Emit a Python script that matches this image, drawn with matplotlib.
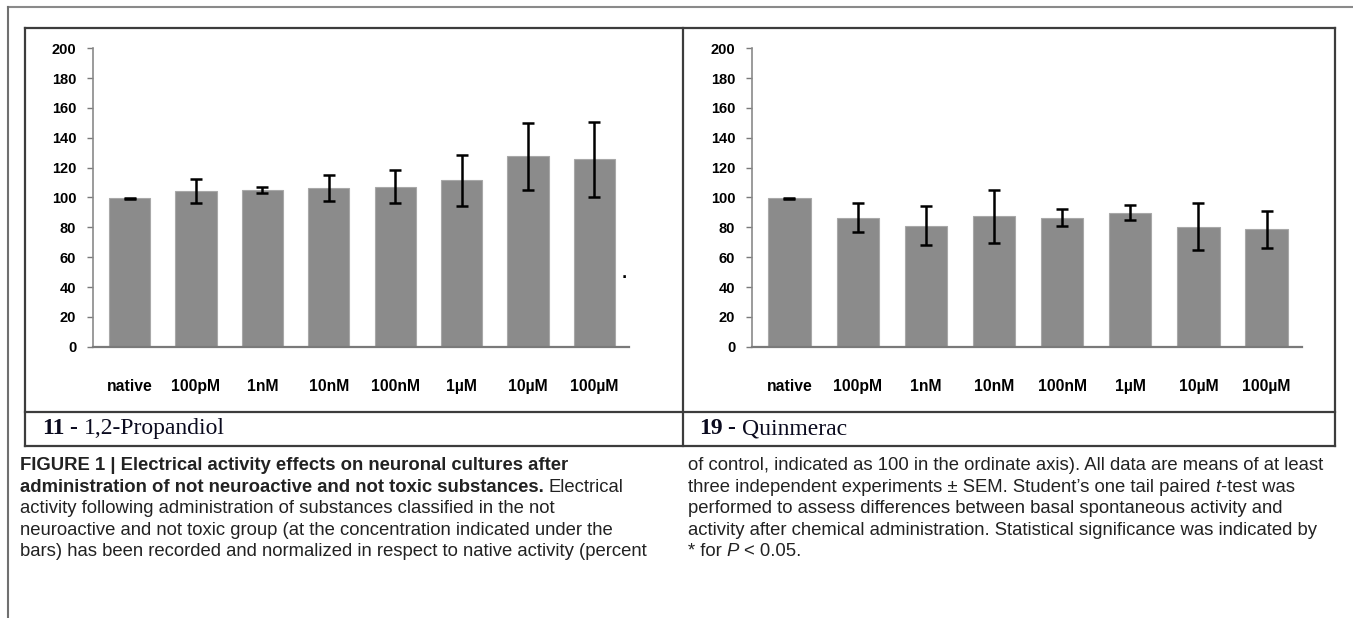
import matplotlib
matplotlib.use("Agg")
import matplotlib.pyplot as plt
from matplotlib.lines import Line2D
import numpy as np

#########################################################################

concentrations = ["native", "100pM", "1nM", "10nM", "100nM", "1µM", "10µM", "100µM"]

propandiol_mean = [99.5, 104.5, 105.3, 106.3, 107.3, 111.5, 127.5, 125.5]
propandiol_sem = [0.4, 8.2, 2.0, 8.8, 11.2, 17.0, 22.7, 24.9]

quinmerac_mean = [99.4, 86.4, 81.1, 87.3, 86.4, 89.9, 80.4, 78.6]
quinmerac_sem = [0.3, 9.6, 13.1, 17.9, 5.7, 4.8, 15.7, 12.2]

panel_titles = [("11", "1,2-Propandiol"), ("19", "Quinmerac")]
yticks = [0, 20, 40, 60, 80, 100, 120, 140, 160, 180, 200]

caption_left = [
    [("FIGURE 1 | Electrical activity effects on neuronal cultures after", "bold", "normal")],
    [("administration of not neuroactive and not toxic substances.", "bold", "normal"),
     (" Electrical", "normal", "normal")],
    [("activity following administration of substances classified in the not", "normal", "normal")],
    [("neuroactive and not toxic group (at the concentration indicated under the", "normal", "normal")],
    [("bars) has been recorded and normalized in respect to native activity (percent", "normal", "normal")],
]
caption_right = [
    [("of control, indicated as 100 in the ordinate axis). All data are means of at least", "normal", "normal")],
    [("three independent experiments ± SEM. Student’s one tail paired ", "normal", "normal"),
     ("t", "normal", "italic"), ("-test was", "normal", "normal")],
    [("performed to assess differences between basal spontaneous activity and", "normal", "normal")],
    [("activity after chemical administration. Statistical significance was indicated by", "normal", "normal")],
    [("* for ", "normal", "normal"), ("P", "normal", "italic"), (" < 0.05.", "normal", "normal")],
]

#########################################################################

W, H = 1353, 618
fig = plt.figure(figsize=(W / 100, H / 100), dpi=100)
renderer = fig.canvas.get_renderer()

sans = ["Liberation Sans", "DejaVu Sans"]
serif = ["Liberation Serif", "DejaVu Serif"]


def fx(x):
    return x / W


def fy(y):
    return 1 - y / H


def hline(x0, x1, y, color, lw):
    fig.add_artist(Line2D([fx(x0), fx(x1)], [fy(y), fy(y)], color=color, lw=lw,
                          transform=fig.transFigure, solid_capstyle="projecting"))


def vline(x, y0, y1, color, lw):
    fig.add_artist(Line2D([fx(x), fx(x)], [fy(y0), fy(y1)], color=color, lw=lw,
                          transform=fig.transFigure, solid_capstyle="projecting"))


def draw_runs(x, y, runs, family, size, color="black"):
    # place text pieces one after another on the same baseline
    for s, weight, style in runs:
        lead = len(s) - len(s.lstrip(" "))
        if lead:
            probe = fig.text(0, 0, "x" + " " * lead + "x", family=family, size=size,
                             weight=weight, style=style)
            probe2 = fig.text(0, 0, "xx", family=family, size=size, weight=weight, style=style)
            x += probe.get_window_extent(renderer).width - probe2.get_window_extent(renderer).width
            probe.remove()
            probe2.remove()
            s = s.lstrip(" ")
        t = fig.text(fx(x), fy(y), s, family=family, size=size, weight=weight,
                     style=style, color=color, va="baseline", ha="left")
        x += t.get_window_extent(renderer).width


# outer frame lines
hline(8, W, 7, "#8a8a8a", 1.5)
vline(8, 7, H, "#707070", 1.5)

# panel table
box = "#3c3c3c"
hline(25, 1335, 28, box, 1.6)
hline(25, 1335, 412, box, 1.6)
hline(25, 1335, 446, box, 1.6)
vline(25, 28, 446, box, 1.6)
vline(683, 28, 446, box, 1.6)
vline(1335, 28, 446, box, 1.6)

# the two bar charts
panels = [
    (propandiol_mean, propandiol_sem, (93, 629)),
    (quinmerac_mean, quinmerac_sem, (752, 1302)),
]
y_top, y_bot = 48.3, 346.7
for k, (means, sems, (x0, x1)) in enumerate(panels):
    ax = fig.add_axes([fx(x0), fy(y_bot), fx(x1 - x0), (y_bot - y_top) / H])
    xs = np.arange(len(concentrations))
    ax.bar(xs, means, width=0.62, color="#8b8b8b", edgecolor="#a8a8a8", lw=0.8, zorder=2)
    ax.errorbar(xs, means, yerr=sems, fmt="none", ecolor="black", elinewidth=1.8,
                capsize=4.2, capthick=1.8, zorder=3)
    ax.set_xlim(-0.55, 7.52)
    ax.set_ylim(0, 200)
    ax.set_yticks(yticks)
    ax.set_yticklabels([str(v) for v in yticks], family=sans, weight="bold", size=10.5)
    ax.set_xticks(xs)
    ax.set_xticklabels(concentrations, family=sans, weight="bold", size=11.3)
    ax.tick_params(axis="x", length=0, pad=23)
    ax.tick_params(axis="y", length=4, width=1, color="#7a7a7a", pad=8)
    for side in ["top", "right"]:
        ax.spines[side].set_visible(False)
    ax.spines["left"].set_color("#8a8a8a")
    ax.spines["bottom"].set_color("#7a7a7a")
    ax.spines["left"].set_linewidth(1.2)
    ax.spines["bottom"].set_linewidth(1.6)
    ax.patch.set_alpha(0)

    num, name = panel_titles[k]
    title_x = [42, 699][k]
    draw_runs(title_x, 434, [(num, "bold", "normal"), (" - ", "bold", "normal"),
                             (name, "normal", "normal")], serif, 17, color="#0a0a1e")
    if k == 0:
        # stray dot left in the original figure
        ax.text(7.45, 46, ".", size=10, color="black", ha="center", weight="bold")

# figure caption in two columns
for i, runs in enumerate(caption_left):
    draw_runs(20, 470 + i * 21.6, runs, sans, 13.3, color="#222222")
for i, runs in enumerate(caption_right):
    draw_runs(688, 470 + i * 21.6, runs, sans, 13.3, color="#222222")

fig.savefig("out.png", dpi=100)
